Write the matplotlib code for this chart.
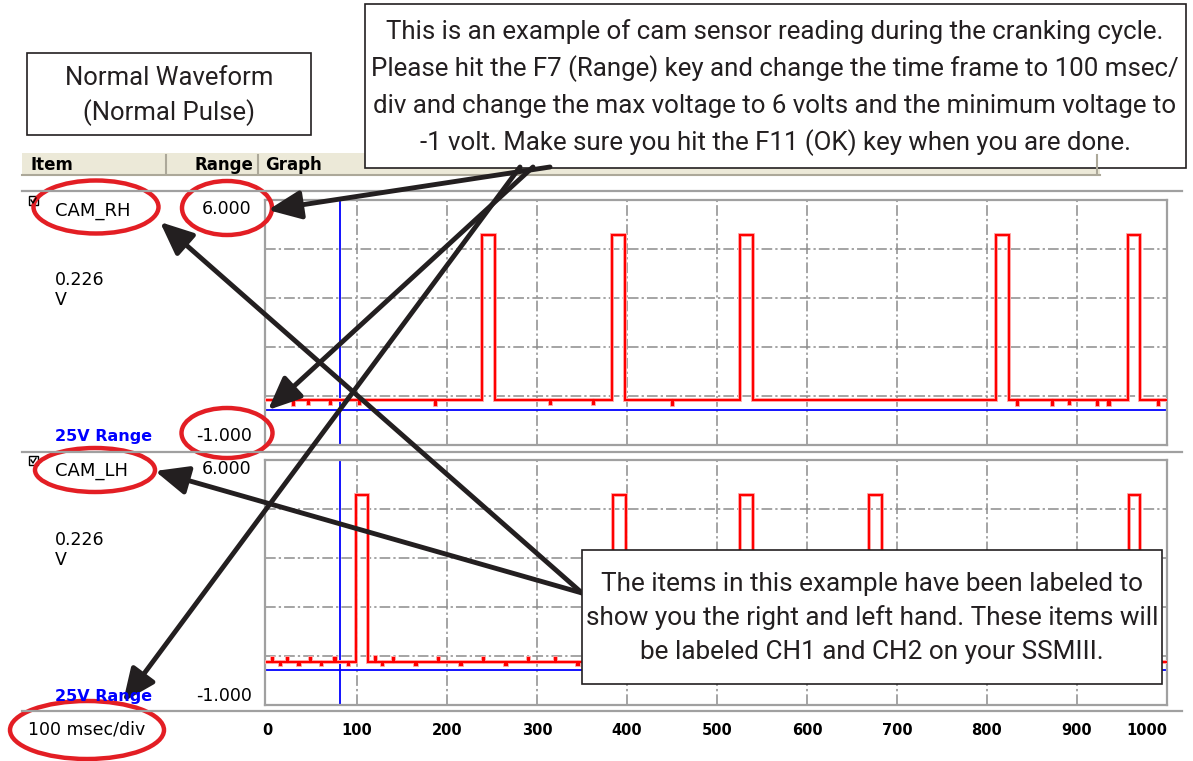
import numpy as np
import matplotlib
matplotlib.use('Agg')
import matplotlib.pyplot as plt
from matplotlib import font_manager
from matplotlib.patches import Rectangle, Ellipse

# scope settings (100 msec/div, range -1 .. 6 V)
t_ticks = [0, 100, 200, 300, 400, 500, 600, 700, 800, 900, 1000]
v_max = 6.0
v_min = -1.0
v_grid = [4.6, 3.2, 1.8, 0.4]
cursor_t = 81

# CAM_RH trace: pulses (start, end) in msec, levels in volts, small dropouts (t, dv)
rh_pulses = [(239, 253), (383, 398), (526, 540), (810, 824), (957, 970)]
rh_low = 0.28
rh_high = 5.0
rh_glitches = [(29, -0.15), (46, -0.12), (70, -0.1), (102, -0.12), (187, -0.15), (314, -0.12),
               (362, -0.1), (450, -0.15), (833, -0.15), (872, -0.15), (891, -0.12), (922, -0.15),
               (935, -0.15), (990, -0.15)]

# CAM_LH trace
lh_pulses = [(99, 112), (384, 399), (526, 540), (669, 683), (958, 970)]
lh_low = 0.23
lh_high = 5.0
lh_glitches = [(6, 0.12), (14, -0.1), (22, 0.12), (35, -0.1), (48, 0.1), (60, -0.1), (75, 0.1),
               (90, -0.1), (120, 0.14), (128, -0.1), (140, 0.12), (165, -0.1), (190, 0.12),
               (215, -0.1), (240, 0.12), (265, -0.1), (290, 0.12), (320, 0.1), (345, -0.1),
               (410, 0.12), (445, -0.1), (470, 0.1), (500, -0.1), (560, 0.1), (600, -0.1),
               (640, 0.1), (700, -0.1), (740, 0.1), (790, -0.1), (850, 0.1), (900, -0.1), (990, 0.1)]

W, H = 1193, 761
ink = '#231f20'
red_mark = '#e31e24'


def build_trace(pulses, low, high, glitches):
    events = sorted([(s, e, high) for s, e in pulses] +
                    [(g, g + 1.2, low + dv) for g, dv in glitches])
    t, v = [0.0], [low]
    for s, e, lvl in events:
        t += [s, s, e, e]
        v += [low, lvl, lvl, low]
    t.append(1000.0)
    v.append(low)
    return np.array(t), np.array(v)


def pick_family():
    for name in ['Liberation Sans Narrow', 'Roboto', 'Liberation Sans']:
        try:
            font_manager.findfont(name, fallback_to_default=False)
            return name
        except Exception:
            pass
    return 'DejaVu Sans'


narrow = pick_family()

fig = plt.figure(figsize=(W / 100, H / 100), dpi=100)
fig.patch.set_facecolor('white')


def scope_axes(top_px, t, v, show_x):
    ax = fig.add_axes([265 / W, 1 - (top_px + 245) / H, 902 / W, 245 / H])
    ax.set_xlim(-2.2, 1000)
    ax.set_ylim(v_min, v_max)
    for x in t_ticks[1:-1]:
        ax.axvline(x, color='#8c8c8c', lw=1.1, ls=(0, (7, 2, 1.5, 2)), zorder=1)
    for y in v_grid:
        ax.axhline(y, color='#8c8c8c', lw=1.1, ls=(0, (7, 2, 1.5, 2)), zorder=1)
    ax.axhline(0, color='#0000ff', lw=1.3, zorder=2)
    ax.axvline(cursor_t, color='#0000ff', lw=1.3, zorder=2)
    ax.plot(t, v, color='#ffa8a8', lw=2.8, zorder=3, solid_joinstyle='miter')
    ax.plot(t, v, color='#ff0000', lw=1.5, zorder=4, solid_joinstyle='miter')
    for sp in ax.spines.values():
        sp.set_color('#a0a0a0')
        sp.set_linewidth(1.6)
    ax.set_yticks([v_min, v_max])
    ax.set_yticklabels(['%.3f' % v_min, '%.3f' % v_max], fontsize=12.5, color='black')
    ax.tick_params(axis='y', length=0, pad=9.5)
    ylab = ax.get_yticklabels()
    ylab[0].set_va('bottom')
    ylab[1].set_va('top')
    ax.set_xticks(t_ticks)
    if show_x:
        ax.set_xticklabels([str(x) for x in t_ticks], fontsize=10.5, fontweight='bold')
        ax.tick_params(axis='x', length=0, pad=13)
        ax.get_xticklabels()[-1].set_ha('right')
    else:
        ax.set_xticklabels([])
        ax.tick_params(axis='x', length=0)
    return ax


t_rh, v_rh = build_trace(rh_pulses, rh_low, rh_high, rh_glitches)
t_lh, v_lh = build_trace(lh_pulses, lh_low, lh_high, lh_glitches)
ax_rh = scope_axes(200, t_rh, v_rh, False)
ax_lh = scope_axes(460, t_lh, v_lh, True)

# overlay in pixel coordinates for the screen chrome and callouts
ov = fig.add_axes([0, 0, 1, 1], zorder=10)
ov.set_xlim(0, W)
ov.set_ylim(H, 0)
ov.axis('off')
ov.patch.set_alpha(0)

# header bar
ov.add_patch(Rectangle((22, 153), 1078, 22, facecolor='#ece9d8', edgecolor='none'))
ov.plot([22, 1100], [175, 175], color='#aca899', lw=1.5)
for x in [166, 258, 1097]:
    ov.plot([x, x], [155, 174], color='#aca899', lw=1.5)
ov.text(30, 165, 'Item', fontsize=12, fontweight='bold', va='center')
ov.text(253, 165, 'Range', fontsize=12, fontweight='bold', va='center', ha='right')
ov.text(265, 165, 'Graph', fontsize=12, fontweight='bold', va='center')

for y in [191, 452, 711]:
    ov.plot([22, 1182], [y, y], color='#a0a0a0', lw=1.6)

# left panel labels
for y0, name in [(0, 'CAM_RH'), (260, 'CAM_LH')]:
    ov.add_patch(Rectangle((29, 196 + y0), 9, 9, facecolor='white', edgecolor='black', lw=1))
    ov.plot([31, 33, 36], [200 + y0, 203 + y0, 198 + y0], color='black', lw=1)
    ov.text(55, 211 + y0, name, fontsize=13, va='center')
    ov.text(55, 280 + y0, '0.226', fontsize=12.5, va='center')
    ov.text(55, 300 + y0, 'V', fontsize=12.5, va='center')
    ov.text(55, 437 + y0, '25V Range', fontsize=11.5, fontweight='bold', color='#0000ff', va='center')
ov.text(28, 729, '100 msec/div', fontsize=12.5, va='center')

# red circles
for cx, cy, w, h in [(96, 207, 125, 53), (227, 208, 90, 54), (227, 433, 91, 50),
                     (95, 470, 120, 44), (87, 730, 154, 58)]:
    ov.add_patch(Ellipse((cx, cy), w, h, facecolor='none', edgecolor=red_mark, lw=3.2))

# callout boxes
ov.add_patch(Rectangle((27, 53), 284, 82, facecolor='white', edgecolor=ink, lw=1.2))
ov.add_patch(Rectangle((365, 4), 821, 164, facecolor='white', edgecolor=ink, lw=1.2))
ov.add_patch(Rectangle((582, 550), 580, 134, facecolor='white', edgecolor=ink, lw=1.2, zorder=3))


def fit_lines(xc, ys, lines, width, z=4):
    txts = [ov.text(xc, y, s, ha='center', va='center', fontsize=20, family=narrow,
                    color=ink, zorder=z) for y, s in zip(ys, lines)]
    fig.canvas.draw()
    r = fig.canvas.get_renderer()
    wmax = max(tx.get_window_extent(r).width for tx in txts)
    for tx in txts:
        tx.set_fontsize(20 * width / wmax)


fit_lines(169, [78, 113], ['Normal Waveform', '(Normal Pulse)'], 208)
fit_lines(775, [32, 69, 106, 143],
          ['This is an example of cam sensor reading during the cranking cycle.',
           'Please hit the F7 (Range) key and change the time frame to 100 msec/',
           'div and change the max voltage to 6 volts and the minimum voltage to',
           '-1 volt. Make sure you hit the F11 (OK) key when you are done.'], 805)
fit_lines(872, [584, 618, 652],
          ['The items in this example have been labeled to',
           'show you the right and left hand. These items will',
           'be labeled CH1 and CH2 on your SSMIII.'], 572)

# arrows
arrow_props = dict(arrowstyle='-|>,head_length=0.8,head_width=0.35', lw=3.5, color=ink,
                   shrinkA=0, shrinkB=0, mutation_scale=25)
for start, tip in [((550, 167), (268, 210)), ((533, 167), (268, 410)), ((520, 167), (123, 702)),
                   ((582, 593), (160, 222)), ((582, 593), (155, 471))]:
    ov.annotate('', xy=tip, xytext=start, arrowprops=arrow_props, zorder=2)

fig.savefig('out.png', dpi=100)
